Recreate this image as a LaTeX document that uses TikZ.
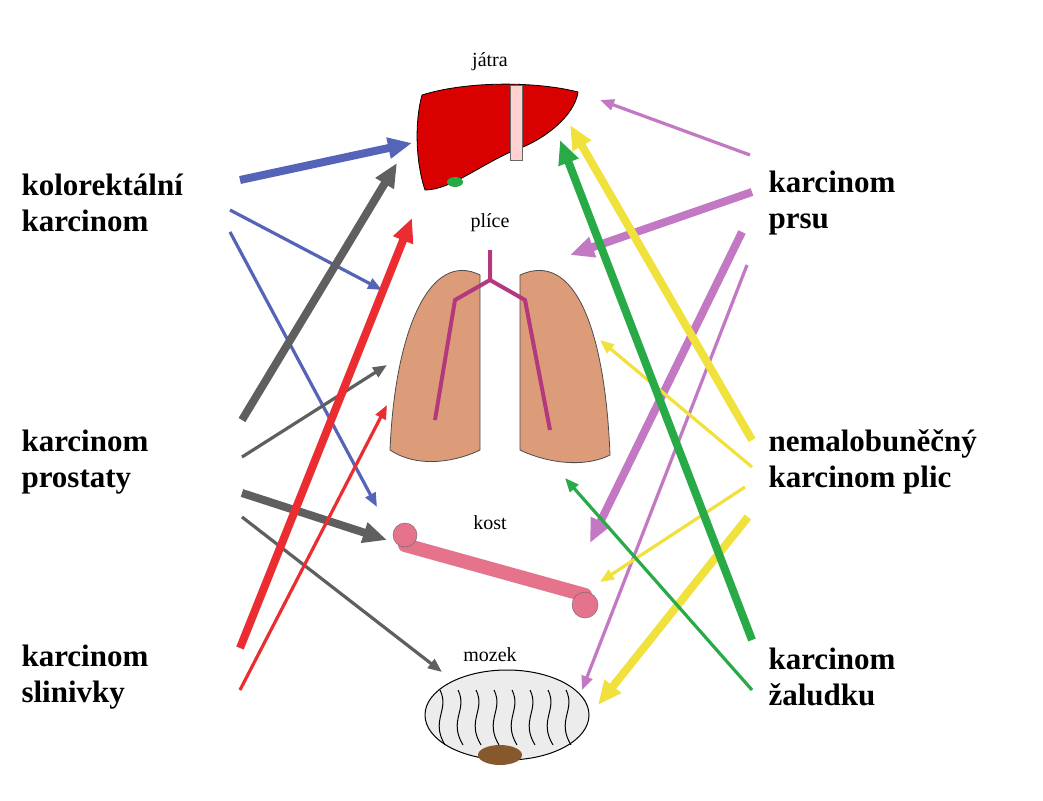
\documentclass[tikz,border=0pt]{standalone}
\usepackage{fontspec}
\setmainfont{Liberation Serif}
\usetikzlibrary{arrows.meta}
\definecolor{cblue}{RGB}{85,100,185}
\definecolor{cgray}{RGB}{95,95,95}
\definecolor{cred}{RGB}{235,45,50}
\definecolor{cpurple}{RGB}{195,120,195}
\definecolor{cyellow}{RGB}{240,225,60}
\definecolor{cgreen}{RGB}{40,170,70}
\tikzset{
  cancer/.style={font=\bfseries\fontsize{31}{36}\selectfont, align=left},
  organ/.style={font=\fontsize{20}{22}\selectfont},
  thin/.style={line width=3.2pt, -{Triangle[length=14pt,width=11pt]}},
  thick/.style={line width=8pt, -{Triangle[length=24pt,width=20pt]}},
}
\begin{document}
\begin{tikzpicture}[x=1pt,y=-1pt]
  \useasboundingbox[fill=white] (0,0) rectangle (1043,800);

  % tumour labels
  \node[cancer, anchor=west] (kolo) at (18,203) {kolorektální\\karcinom};
  \node[cancer, anchor=west] (pros) at (18,462) {karcinom\\prostaty};
  \node[cancer, anchor=west] (slin) at (18,677) {karcinom\\slinivky};
  \node[cancer, anchor=west] (prsu) at (765,203) {karcinom\\prsu};
  \node[cancer, anchor=west] (plic) at (765,462) {nemalobuněčný\\karcinom plic};
  \node[cancer, anchor=west] (zalu) at (765,677) {karcinom\\žaludku};

  % organ labels
  \node[organ] (jatra) at (490,62) {játra};
  \node[organ] (plice) at (490,223) {plíce};
  \node[organ] (kost) at (490,523) {kost};
  \node[organ] (mozek) at (490,655) {mozek};

  % liver
  \fill[red!85!black, draw=black, line width=0.8pt] (422,95) .. controls (470,80) and (540,82) .. (578,92)
    .. controls (575,115) and (545,140) .. (515,150) .. controls (480,165) and (450,190) .. (425,190)
    .. controls (415,160) and (415,120) .. (422,95) -- cycle;
  \fill[pink!70!white, draw=black!60] (510,85) rectangle (522,160);
  \fill[cgreen] (455,182) ellipse (8 and 5);
  % lungs
  \fill[brown!55!pink, draw=black!70, line width=0.8pt] (480,275) .. controls (430,250) and (395,330) .. (390,450)
    .. controls (420,470) and (460,460) .. (480,450) -- cycle;
  \fill[brown!55!pink, draw=black!70, line width=0.8pt] (520,275) .. controls (575,250) and (605,330) .. (610,455)
    .. controls (580,470) and (540,460) .. (520,450) -- cycle;
  \draw[magenta!70!black, line width=4pt] (490,250) -- (490,280) -- (455,300) -- (435,420)
    (490,280) -- (525,300) -- (550,430);
  % bone
  \draw[pink!60!purple, line width=14pt, line cap=round] (405,545) -- (585,595);
  \fill[pink!60!purple, draw=black!60] (405,535) circle (12) (585,605) circle (13);
  % brain
  \fill[gray!15, draw=black, line width=1pt] (507,715) ellipse (82 and 45);
  \foreach \i in {0,...,7}
    \draw[black, line width=1pt] (440+\i*18,690) .. controls (450+\i*18,710) and (430+\i*18,720) .. (445+\i*18,745);
  \fill[brown!70!black] (500,755) ellipse (22 and 10);

  % arrow end points
  \coordinate (b1s) at (240,180); \coordinate (b1e) at (412,143);
  \coordinate (b2s) at (230,210); \coordinate (b2e) at (382,290);
  \coordinate (b3s) at (230,232); \coordinate (b3e) at (377,507);
  \coordinate (g1s) at (242,420); \coordinate (g1e) at (397,163);
  \coordinate (g2s) at (242,457); \coordinate (g2e) at (387,365);
  \coordinate (g3s) at (242,493); \coordinate (g3e) at (387,540);
  \coordinate (g4s) at (242,517); \coordinate (g4e) at (442,672);
  \coordinate (r1s) at (240,648); \coordinate (r1e) at (412,218);
  \coordinate (r2s) at (240,690); \coordinate (r2e) at (387,405);
  \coordinate (p1s) at (750,155); \coordinate (p1e) at (600,100);
  \coordinate (p2s) at (752,192); \coordinate (p2e) at (570,255);
  \coordinate (p3s) at (742,232); \coordinate (p3e) at (590,543);
  \coordinate (p4s) at (747,265); \coordinate (p4e) at (582,690);
  \coordinate (y1s) at (752,440); \coordinate (y1e) at (570,125);
  \coordinate (y2s) at (752,467); \coordinate (y2e) at (600,340);
  \coordinate (y3s) at (745,487); \coordinate (y3e) at (600,582);
  \coordinate (y4s) at (748,517); \coordinate (y4e) at (598,705);
  \coordinate (e1s) at (752,640); \coordinate (e1e) at (560,140);
  \coordinate (e2s) at (752,690); \coordinate (e2e) at (565,478);

  % metastasis arrows
  \draw[thick, cblue] (b1s) -- (b1e);
  \draw[thin, cblue] (b2s) -- (b2e);
  \draw[thin, cblue] (b3s) -- (b3e);
  \draw[thick, cgray] (g1s) -- (g1e);
  \draw[thin, cgray] (g2s) -- (g2e);
  \draw[thick, cgray] (g3s) -- (g3e);
  \draw[thin, cgray] (g4s) -- (g4e);
  \draw[thick, cred] (r1s) -- (r1e);
  \draw[thin, cred] (r2s) -- (r2e);
  \draw[thin, cpurple] (p1s) -- (p1e);
  \draw[thick, cpurple] (p2s) -- (p2e);
  \draw[thick, cpurple] (p3s) -- (p3e);
  \draw[thin, cpurple] (p4s) -- (p4e);
  \draw[thick, cyellow] (y1s) -- (y1e);
  \draw[thin, cyellow] (y2s) -- (y2e);
  \draw[thin, cyellow] (y3s) -- (y3e);
  \draw[thick, cyellow] (y4s) -- (y4e);
  \draw[thick, cgreen] (e1s) -- (e1e);
  \draw[thin, cgreen] (e2s) -- (e2e);
\end{tikzpicture}
\end{document}
